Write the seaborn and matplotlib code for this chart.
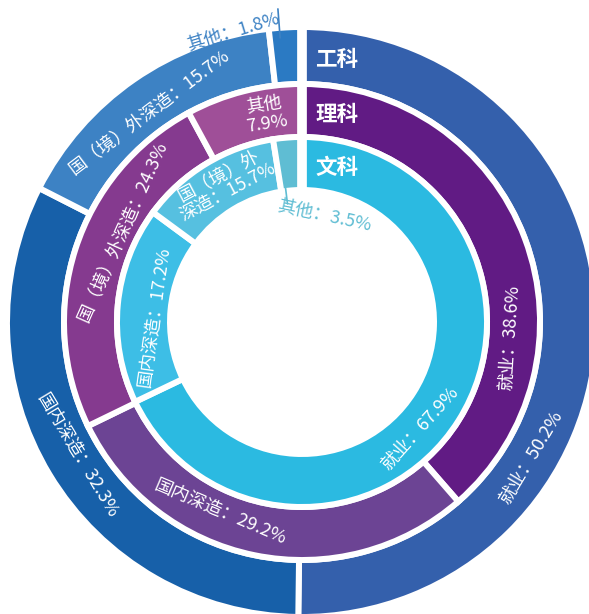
import numpy as np
import matplotlib
matplotlib.use("Agg")
import matplotlib.pyplot as plt
import seaborn as sns

# data
categories = ["就业", "国内深造", "国（境）外深造", "其他"]
rings = ["工科", "理科", "文科"]

gong_vals = [50.2, 32.3, 15.7, 1.8]
li_vals = [38.6, 29.2, 24.3, 7.9]
# inner ring: the printed shares add up to 104.3, arcs drawn
wen_vals = [67.9, 17.2, 12.4, 2.5]
wen_pct = [67.9, 17.2, 15.7, 3.5]

gong_colors = ["#3460ac", "#1760a9", "#3d82c4", "#2b7ac3"]
li_colors = ["#611b84", "#6c4494", "#853a8f", "#9f4f98"]
wen_colors = ["#2bbae1", "#3dbee6", "#56c0e0", "#5fbdd3"]

sns.set_theme(style="white")
plt.rcParams["font.family"] = ["Noto Sans CJK SC", "DejaVu Sans"]


def polar(theta, r):
    # theta in degrees, clockwise from 12 o'clock
    t = np.deg2rad(theta)
    return r * np.sin(t), r * np.cos(t)


fig = plt.figure(figsize=(5.89, 6.14), dpi=100)
ax = fig.add_axes([0, 0, 1, 1])

gap = 4.3  # white separators, pt
ring_r = [295, 238, 185]
ring_w = [57, 53, 53]
for vals, cols, r, w in zip([gong_vals, li_vals, wen_vals],
                            [gong_colors, li_colors, wen_colors], ring_r, ring_w):
    ax.pie(vals, colors=cols, radius=r, startangle=90, counterclock=False,
           normalize=True, frame=False,
           wedgeprops=dict(width=w, edgecolor="white", linewidth=gap))

# wider cut at 12 o'clock
ax.plot([0, 0], [0, 330], color="white", lw=7, solid_capstyle="butt", zorder=3)

# ring names
for name, r, w in zip(rings, ring_r, ring_w):
    ax.text(35, r - w / 2 - 4, name, color="white", fontsize=15.5,
            fontweight="bold", ha="center", va="center", zorder=4)

txt = dict(color="white", fontsize=13, fontweight="light",
           ha="center", va="center", linespacing=1.05, zorder=4)

# 工科
gong_labels = [f"{c}：{v}%" for c, v in zip(categories, gong_vals)]
gong_pos = [(120.7, 266, 59), (239.3, 261, -59), (324, 259, 37)]
for lab, (th, r, rot) in zip(gong_labels[:3], gong_pos):
    x, y = polar(th, r)
    ax.text(x, y, lab, rotation=rot, **txt)
x, y = polar(346.6, 298)
ax.text(x, y, gong_labels[3], rotation=17, color=gong_colors[2], fontsize=13,
        fontweight="light", ha="center", va="center")
ax.plot(*zip(polar(355.6, 285), polar(355.6, 314)), color=gong_colors[2], lw=1.2)

# 理科
li_labels = [f"{c}：{v}%" for c, v in zip(categories, li_vals)]
li_labels[3] = f"{categories[3]}\n{li_vals[3]}%"
li_pos = [(94.4, 208, 86), (203.3, 207, -23), (296.8, 200, 66), (350, 211, 9)]
for lab, (th, r, rot) in zip(li_labels, li_pos):
    x, y = polar(th, r)
    ax.text(x, y, lab, rotation=rot, **txt)

# 文科
wen_labels = [f"{c}：{v}%" for c, v in zip(categories, wen_pct)]
wen_labels[2] = f"国（境）外\n深造：{wen_pct[2]}%"
wen_pos = [(132.2, 159, 48), (272, 148, 82), (330.3, 158, 28)]
for lab, (th, r, rot) in zip(wen_labels[:3], wen_pos):
    x, y = polar(th, r)
    ax.text(x, y, lab, rotation=rot, **txt)
x, y = polar(11.7, 108)
ax.text(x, y, wen_labels[3], rotation=-12, color=wen_colors[3], fontsize=13,
        fontweight="light", ha="center", va="center")
ax.plot(*zip(polar(353, 119), polar(353, 140)), color=wen_colors[3], lw=1.2)

ax.set_xlim(-302, 287)
ax.set_ylim(-292, 322)
ax.set_aspect("equal")
ax.axis("off")

fig.savefig("out.png", dpi=100)
